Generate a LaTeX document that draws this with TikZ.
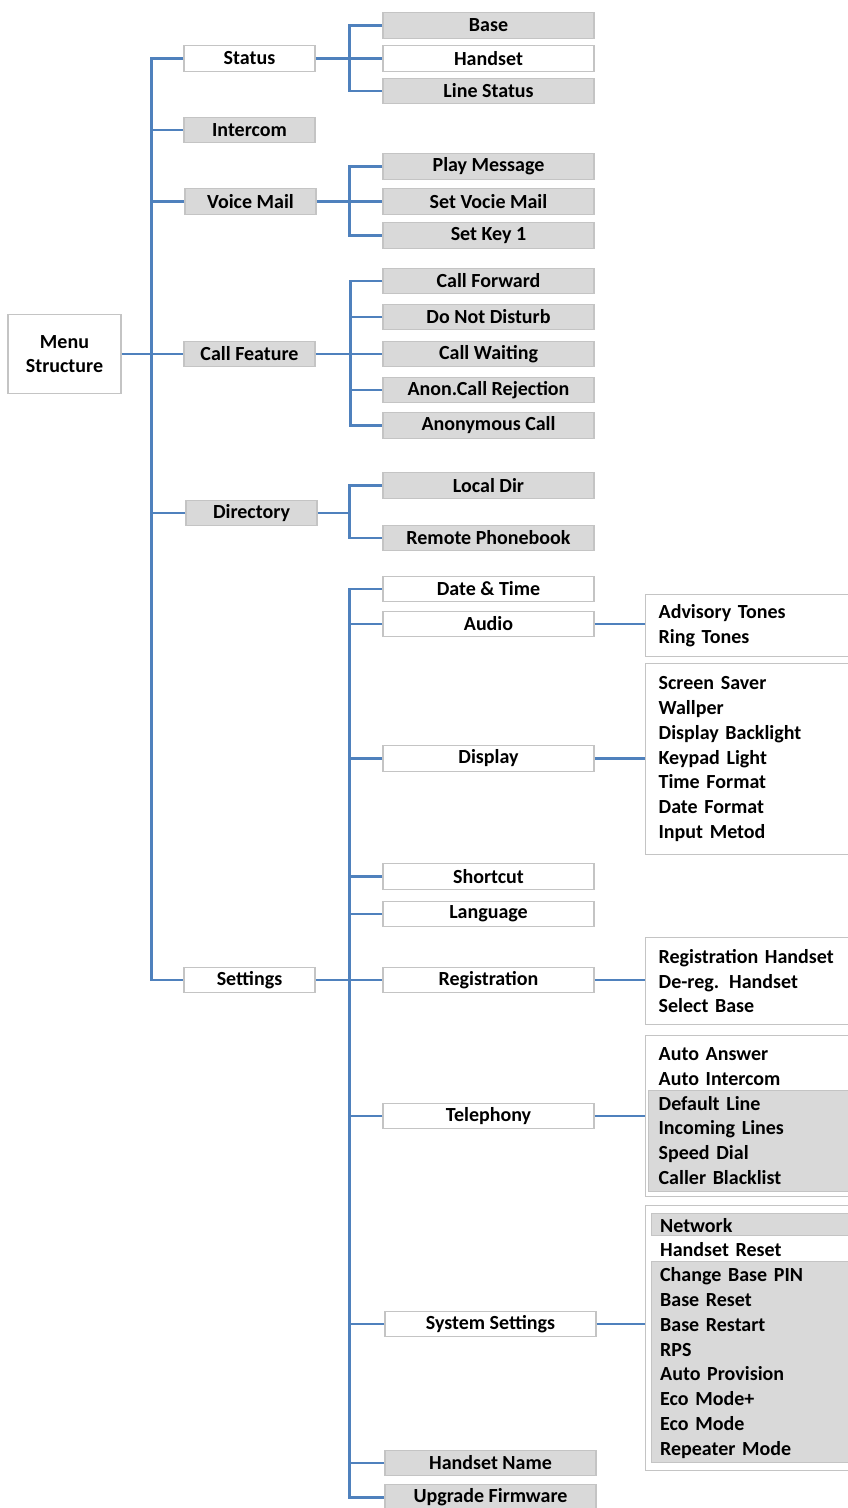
\documentclass[tikz,border=0pt]{standalone}
\usepackage{fontspec}
\setmainfont{Carlito}
\definecolor{linkblue}{RGB}{79,129,189}
\definecolor{boxgray}{RGB}{217,217,217}
\definecolor{edgegray}{RGB}{196,196,196}
\begin{document}
\begin{tikzpicture}[x=1pt,y=-1pt,
  every node/.style={font=\bfseries\fontsize{20}{24.8}\selectfont, inner sep=0pt},
  box/.style={draw=edgegray, line width=1.3pt, minimum height=25.5pt, align=center},
  lone/.style={box, minimum width=131pt},
  ltwo/.style={box, minimum width=211pt},
  gbox/.style={fill=boxgray},
  wbox/.style={fill=white},
  link/.style={draw=linkblue, line width=2.6pt},
  rbox/.style={draw=edgegray, line width=1.3pt, anchor=north west, text width=190pt, align=left, inner xsep=13pt, inner ysep=0pt},
  gstrip/.style={fill=boxgray, draw=edgegray, line width=1pt}
]
\useasboundingbox (0,0) rectangle (848,1508);

% root
\node[box, wbox, minimum width=113pt, minimum height=79pt] (menu) at (64.5,354) {Menu\\Structure};

% level 1
\node[lone, wbox] (status) at (249.5,58.5) {Status};
\node[lone, gbox] (intercom) at (249.5,130) {Intercom};
\node[lone, gbox] (voicemail) at (250.5,201.5) {Voice Mail};
\node[lone, gbox] (callfeature) at (249.5,354) {Call Feature};
\node[lone, gbox] (directory) at (251.5,513) {Directory};
\node[lone, wbox] (settings) at (249.5,980) {Settings};

% level 2
\node[ltwo, gbox] (base) at (488.5,25.5) {Base};
\node[ltwo, wbox] (handset) at (488.5,58.5) {Handset};
\node[ltwo, gbox] (linestatus) at (488.5,91) {Line Status};

\node[ltwo, gbox] (playmsg) at (488.5,166.5) {Play Message};
\node[ltwo, gbox] (setvm) at (488.5,201.5) {Set Vocie Mail};
\node[ltwo, gbox] (setkey) at (488.5,235.5) {Set Key 1};

\node[ltwo, gbox] (callfwd) at (488.5,281) {Call Forward};
\node[ltwo, gbox] (dnd) at (488.5,317) {Do Not Disturb};
\node[ltwo, gbox] (callwait) at (488.5,354) {Call Waiting};
\node[ltwo, gbox] (anon) at (488.5,390) {Anon.Call Rejection};
\node[ltwo, gbox] (anoncall) at (488.5,425.5) {Anonymous Call};

\node[ltwo, gbox] (localdir) at (488.5,485.5) {Local Dir};
\node[ltwo, gbox] (remote) at (488.5,538) {Remote Phonebook};

\node[ltwo, wbox] (datetime) at (488.5,589) {Date \& Time};
\node[ltwo, wbox] (audio) at (488.5,624) {Audio};
\node[ltwo, wbox] (display) at (488.5,758.5) {Display};
\node[ltwo, wbox] (shortcut) at (488.5,876.5) {Shortcut};
\node[ltwo, wbox] (language) at (488.5,914) {Language};
\node[ltwo, wbox] (registration) at (488.5,980) {Registration};
\node[ltwo, wbox] (telephony) at (488.5,1116) {Telephony};
\node[ltwo, wbox] (syssettings) at (490.5,1324) {System Settings};
\node[ltwo, gbox] (handsetname) at (490.5,1463) {Handset Name};
\node[ltwo, gbox] (upgrade) at (490.5,1497.5) {Upgrade Firmware};

% right detail boxes: gray strips first
\fill[gstrip] (648,1090) rectangle (860,1191);
\fill[gstrip] (651,1213) rectangle (860,1235);
\fill[gstrip] (651,1261) rectangle (860,1462);

\node[rbox, minimum height=62pt] (audiosub) at (645,594) {Advisory Tones\\Ring Tones};
\node[rbox, minimum height=191pt] (displaysub) at (645,663) {Screen Saver\\Wallper\\Display Backlight\\Keypad Light\\Time Format\\Date Format\\Input Metod};
\node[rbox, minimum height=87pt] (regsub) at (645,937) {Registration Handset\\De-reg. Handset\\Select Base};
\node[rbox, minimum height=161pt] (telsub) at (645,1035) {Auto Answer\\Auto Intercom\\Default Line\\Incoming Lines\\Speed Dial\\Caller Blacklist};
\node[rbox, minimum height=265pt, inner xsep=14.5pt] (syssub) at (645,1205) {Network\\Handset Reset\\Change Base PIN\\Base Reset\\Base Restart\\RPS\\Auto Provision\\Eco Mode+\\Eco Mode\\Repeater Mode};

% connectors: root and trunk
\draw[link] (menu.east) -- (callfeature.west);
\draw[link] (status.west) -- ++(-32,0) coordinate (trk) |- (settings.west);
\foreach \n in {intercom,voicemail,directory}
  \draw[link] (\n.west) -- (\n.west -| trk);

% status branch
\draw[link] (status.east) -- (handset.west);
\draw[link] (base.west) -- ++(-33,0) |- (linestatus.west);

% voice mail branch
\draw[link] (voicemail.east) -- (setvm.west);
\draw[link] (playmsg.west) -- ++(-33,0) |- (setkey.west);

% call feature branch
\draw[link] (callfeature.east) -- (callwait.west);
\draw[link] (callfwd.west) -- ++(-32,0) coordinate (cfb) |- (anoncall.west);
\foreach \n in {dnd,anon}
  \draw[link] (\n.west) -- (\n.west -| cfb);

% directory branch
\draw[link] (localdir.west) -- ++(-33,0) coordinate (drb) |- (remote.west);
\draw[link] (directory.east) -- (directory.east -| drb);

% settings branch
\draw[link] (settings.east) -- (registration.west);
\draw[link] (datetime.west) -- ++(-33,0) coordinate (stb) |- (upgrade.west);
\foreach \n in {audio,display,shortcut,language,telephony,syssettings,handsetname}
  \draw[link] (\n.west) -- (\n.west -| stb);

% detail connectors
\draw[link] (audio.east) -- (audio.east -| audiosub.west);
\draw[link] (display.east) -- (display.east -| displaysub.west);
\draw[link] (registration.east) -- (registration.east -| regsub.west);
\draw[link] (telephony.east) -- (telephony.east -| telsub.west);
\draw[link] (syssettings.east) -- (syssettings.east -| syssub.west);
\end{tikzpicture}
\end{document}
